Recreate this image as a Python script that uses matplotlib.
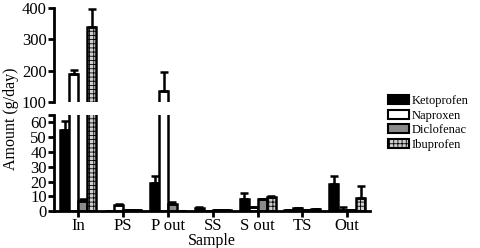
import matplotlib
matplotlib.use("Agg")
import matplotlib.pyplot as plt
import numpy as np
from matplotlib.patches import Patch

plt.rcParams['font.family'] = ['Liberation Serif', 'DejaVu Serif']
plt.rcParams['hatch.linewidth'] = 0.6

samples = ["In", "PS", "P out", "SS", "S out", "TS", "Out"]
compounds = ["Ketoprofen", "Naproxen", "Diclofenac", "Ibuprofen"]
ketoprofen = [55, 0.3, 19, 2, 8, 1, 18]
naproxen = [190, 4, 135, 0.3, 3, 2, 1]
diclofenac = [7, 1, 5, 0.5, 8, 1, 1]
ibuprofen = [340, 1, 0.3, 0.5, 9.5, 1.5, 9]
ketoprofen_err = [6, 0, 5, 1, 4, 0, 6]
naproxen_err = [12, 1, 60, 0, 0, 0, 2]
diclofenac_err = [1, 0, 1, 0, 0, 0, 0]
ibuprofen_err = [57, 0, 0, 0, 1, 0, 8]

values = [ketoprofen, naproxen, diclofenac, ibuprofen]
errors = [ketoprofen_err, naproxen_err, diclofenac_err, ibuprofen_err]
styles = [
    dict(facecolor='black', edgecolor='black', hatch=None),
    dict(facecolor='white', edgecolor='black', hatch=None),
    dict(facecolor='#8a8a8a', edgecolor='black', hatch=None),
    dict(facecolor='#cfcfcf', edgecolor='black', hatch='++++'),
]

fig = plt.figure(figsize=(4.8, 2.48), dpi=100)
ax_top = fig.add_axes([0.112, 0.589, 0.658, 0.379])
ax_bot = fig.add_axes([0.112, 0.149, 0.658, 0.387])

x = np.arange(len(samples))
w = 0.2
for ax in (ax_top, ax_bot):
    for i, (vals, errs, st) in enumerate(zip(values, errors, styles)):
        pos = x + (i - 1.5) * w
        ax.bar(pos, vals, width=w, facecolor=st['facecolor'], edgecolor=st['edgecolor'],
               hatch=st['hatch'], linewidth=1.8, zorder=2)
        ax.errorbar(pos, vals, yerr=[np.zeros(len(errs)), errs], fmt='none',
                    ecolor='black', elinewidth=1.8, capsize=3, capthick=1.8, zorder=3)
    ax.set_xlim(-0.55, len(samples) - 0.5)
    for s in ['top', 'right']:
        ax.spines[s].set_visible(False)
    ax.spines['left'].set_linewidth(2)
    ax.tick_params(axis='y', width=2, length=4, labelsize=12, pad=1)

ax_top.set_ylim(100, 400)
ax_top.set_yticks([100, 200, 300, 400])
ax_top.spines['bottom'].set_visible(False)
ax_top.tick_params(axis='x', bottom=False, labelbottom=False)

ax_bot.set_ylim(0, 65)
ax_bot.set_yticks([0, 10, 20, 30, 40, 50, 60, 65])
ax_bot.set_yticklabels(['0', '10', '20', '30', '40', '50', '60', ''])
ax_bot.spines['bottom'].set_linewidth(2)
ax_bot.set_xticks(x)
ax_bot.set_xticklabels(samples)
ax_bot.tick_params(axis='x', width=2, length=4, labelsize=12, pad=1)
ax_bot.set_xlabel("Sample", fontsize=11.5, labelpad=-1)

fig.text(0.022, 0.52, "Amount (g/day)", rotation=90, fontsize=11.5, ha='center', va='center')

handles = [Patch(facecolor=st['facecolor'], edgecolor='black', hatch=st['hatch'], linewidth=1.5)
           for st in styles]
fig.legend(handles, compounds, loc='center left', bbox_to_anchor=(0.79, 0.505), frameon=False,
           fontsize=9, handlelength=1.7, handleheight=0.7, handletextpad=0.2, labelspacing=0.2,
           borderpad=0.2)

fig.savefig("out.png", dpi=100)
